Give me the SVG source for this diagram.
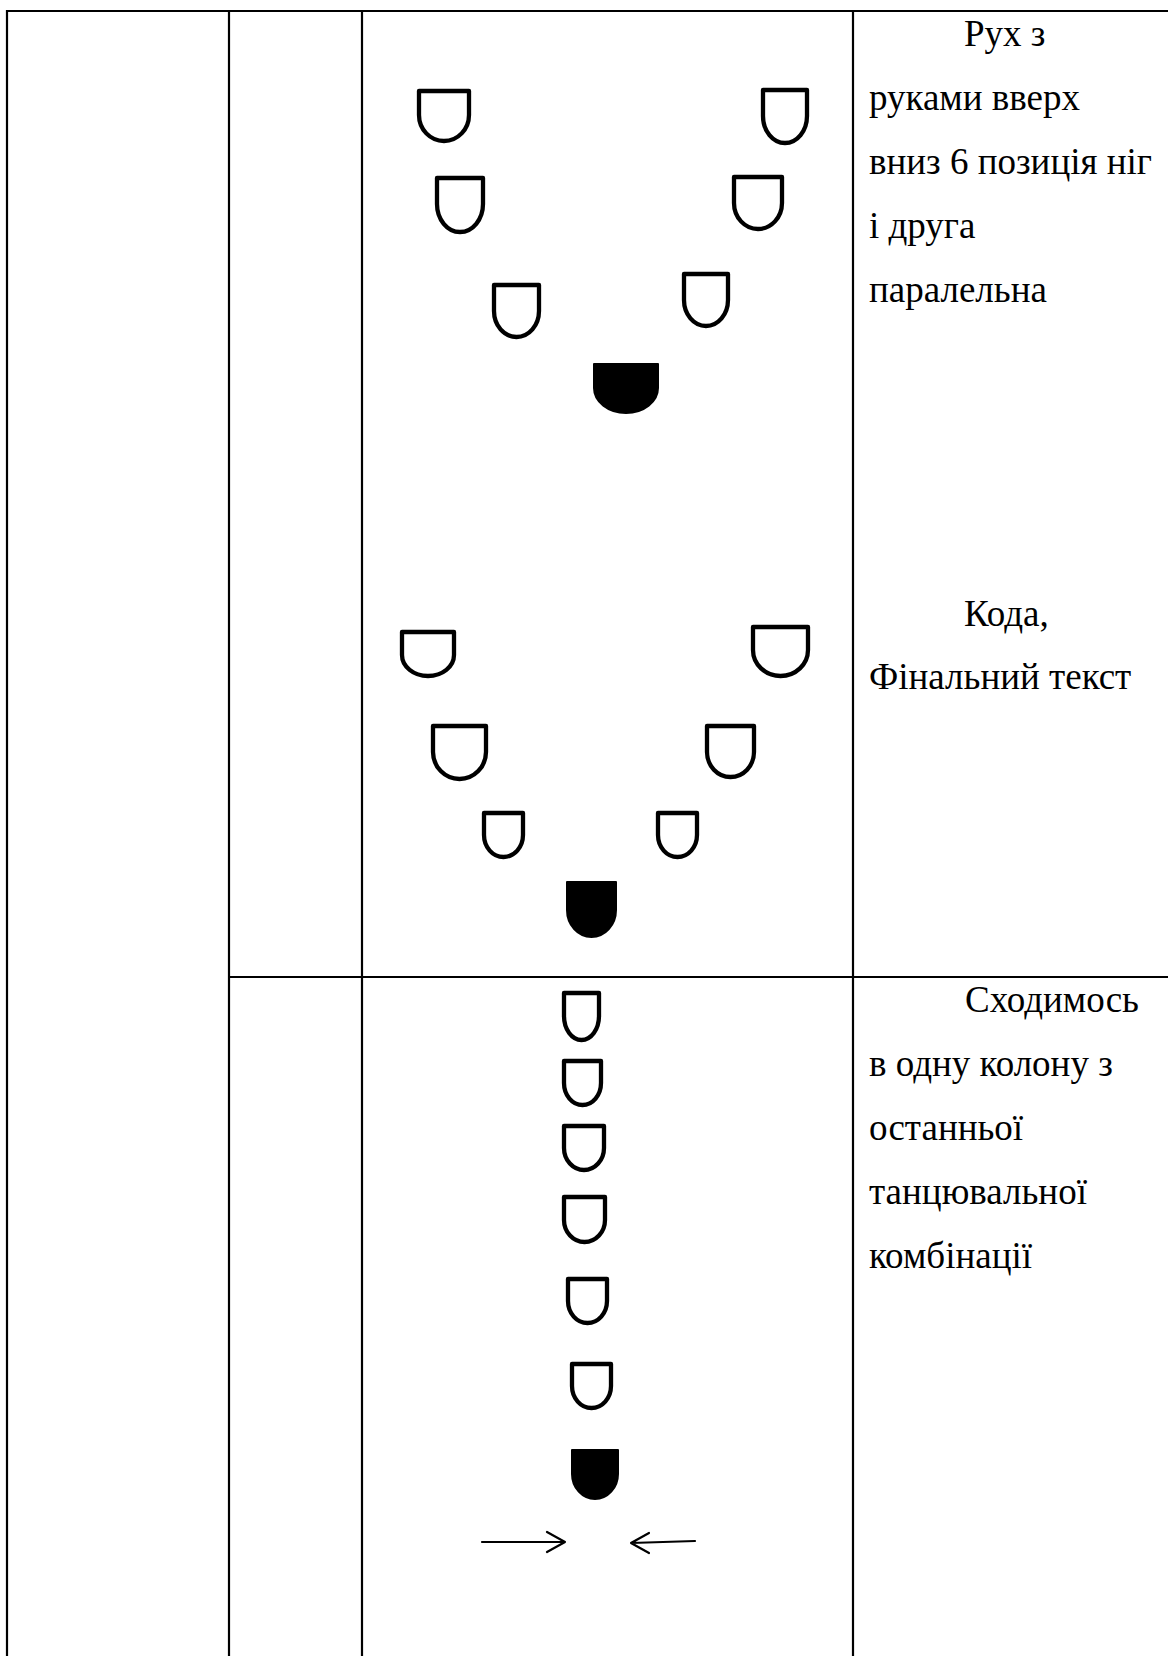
<svg xmlns="http://www.w3.org/2000/svg" width="1168" height="1656" viewBox="0 0 1168 1656">
<style>
.grid{stroke:#000;stroke-width:2.2;fill:none}
.o{fill:none;stroke:#000;stroke-width:4.3;stroke-linejoin:round}
.f{fill:#000;stroke:#000;stroke-width:2;stroke-linejoin:round}
.arr{fill:none;stroke:#000;stroke-width:2.2;stroke-linecap:round;stroke-linejoin:round}
.t{font-family:"Liberation Serif","Times New Roman",serif;font-size:37px;fill:#000}
</style>
<rect width="1168" height="1656" fill="#fff"/>
<g id="table">
<line class="grid" x1="6" y1="11" x2="1168" y2="11"/>
<line class="grid" x1="7" y1="10" x2="7" y2="1656"/>
<line class="grid" x1="229" y1="10" x2="229" y2="1656"/>
<line class="grid" x1="362" y1="10" x2="362" y2="1656"/>
<line class="grid" x1="853" y1="10" x2="853" y2="1656"/>
<line class="grid" x1="228" y1="977" x2="1168" y2="977"/>
</g>
<g id="section1">
<g id="s1a"><path class="o" d="M419,91 H469 V115 A25,26 0 0 1 419,115 Z"/></g>
<g id="s1b"><path class="o" d="M763,90 H807 V116 A22,27 0 0 1 763,116 Z"/></g>
<g id="s1c"><path class="o" d="M437,178 H483 V204 A23,28 0 0 1 437,204 Z"/></g>
<g id="s1d"><path class="o" d="M734,177 H782 V203 A24,26 0 0 1 734,203 Z"/></g>
<g id="s1e"><path class="o" d="M494,285 H539 V311 A22.5,26 0 0 1 494,311 Z"/></g>
<g id="s1f"><path class="o" d="M684,274 H728 V300 A22,26 0 0 1 684,300 Z"/></g>
<g id="s1g"><path class="f" d="M594,364 H658 V388 A32,25 0 0 1 594,388 Z"/></g>
</g>
<g id="section2">
<g id="s2a"><path class="o" d="M402,632 H454 V655 A26,21 0 0 1 402,655 Z"/></g>
<g id="s2b"><path class="o" d="M753,627 H808 V650 A27.5,26 0 0 1 753,650 Z"/></g>
<g id="s2c"><path class="o" d="M433,726 H486 V752 A26.5,27 0 0 1 433,752 Z"/></g>
<g id="s2d"><path class="o" d="M707,726 H754 V752 A23.5,25 0 0 1 707,752 Z"/></g>
<g id="s2e"><path class="o" d="M484,813 H523 V835 A19.5,22 0 0 1 484,835 Z"/></g>
<g id="s2f"><path class="o" d="M658,813 H697 V835 A19.5,22 0 0 1 658,835 Z"/></g>
<g id="s2g"><path class="f" d="M567,882 H616 V910 A24.5,27 0 0 1 567,910 Z"/></g>
</g>
<g id="section3">
<g id="s3a"><path class="o" d="M564,993 H599 V1016 A17.5,24 0 0 1 564,1016 Z"/></g>
<g id="s3b"><path class="o" d="M564,1061 H601 V1083 A18.5,22 0 0 1 564,1083 Z"/></g>
<g id="s3c"><path class="o" d="M564,1126 H604 V1148 A20,22 0 0 1 564,1148 Z"/></g>
<g id="s3d"><path class="o" d="M564,1197 H605 V1220 A20.5,22 0 0 1 564,1220 Z"/></g>
<g id="s3e"><path class="o" d="M568,1279 H607 V1301 A19.5,22 0 0 1 568,1301 Z"/></g>
<g id="s3f"><path class="o" d="M572,1364 H611 V1386 A19.5,22 0 0 1 572,1386 Z"/></g>
<g id="s3g"><path class="f" d="M572,1450 H618 V1474 A23,25 0 0 1 572,1474 Z"/></g>
</g>
<g id="connectors">
<path class="arr" d="M482,1542 H565 M547,1532 L565,1542 L547,1552"/>
<path class="arr" d="M695,1541 L631,1543 M649,1533 L631,1543 L649,1553"/>
</g>
<g id="labels" class="t">
<text x="964" y="46">Рух з</text>
<text x="869" y="110">руками вверх</text>
<text x="869" y="174">вниз 6 позиція ніг</text>
<text x="869" y="238">і друга</text>
<text x="869" y="302">паралельна</text>
<text x="964" y="626">Кода,</text>
<text x="869" y="689">Фінальний текст</text>
<text x="965" y="1012">Сходимось</text>
<text x="869" y="1076">в одну колону з</text>
<text x="869" y="1140">останньої</text>
<text x="869" y="1204">танцювальної</text>
<text x="869" y="1268">комбінації</text>
</g>
</svg>
